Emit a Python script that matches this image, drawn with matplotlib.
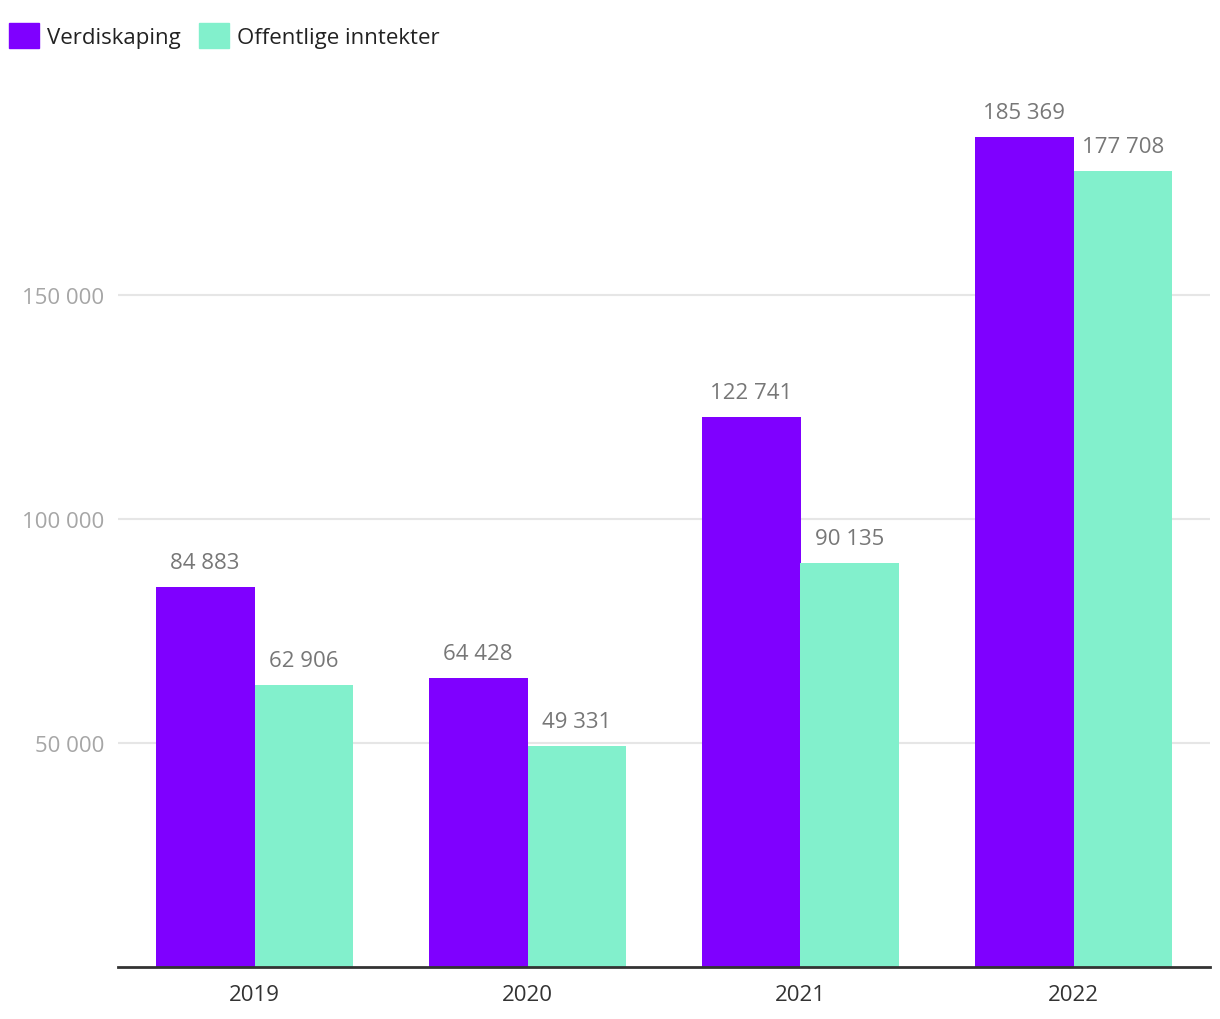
import numpy as np
import matplotlib
matplotlib.use("Agg")
import matplotlib.pyplot as plt
from matplotlib.patches import Patch

plt.rcParams['font.family'] = ['Open Sans', 'DejaVu Sans']

years = ["2019", "2020", "2021", "2022"]
verdiskaping = [84883, 64428, 122741, 185369]
offentlige = [62906, 49331, 90135, 177708]
series_names = ["Verdiskaping", "Offentlige inntekter"]
yticks = [50000, 100000, 150000]

purple = "#7F00FF"
teal = "#82F0CC"


def fmt(v):
    # norsk tusenskille med mellomrom
    return f"{v:,}".replace(",", " ")


fig = plt.figure(figsize=(12.2, 10.2), dpi=100)
ax = fig.add_axes([118 / 1220, 1 - 968 / 1020, (1210 - 118) / 1220, (968 - 72) / 1020])

x = np.arange(len(years))
w = 0.3626
b1 = ax.bar(x - w / 2, verdiskaping, width=w, color=purple, zorder=3)
b2 = ax.bar(x + w / 2, offentlige, width=w, color=teal, zorder=3)

for bars, vals in [(b1, verdiskaping), (b2, offentlige)]:
    for rect, v in zip(bars, vals):
        ax.annotate(fmt(v), (rect.get_x() + rect.get_width() / 2, v),
                    xytext=(0, 10), textcoords="offset points",
                    ha="center", va="bottom", fontsize=16, color="#777777")

ax.set_xlim(-0.5, 3.5)
ax.set_ylim(0, 200000)
ax.set_xticks(x)
ax.set_xticklabels(years, fontsize=16, color="#333333")
ax.set_yticks(yticks)
ax.set_yticklabels([fmt(t) for t in yticks], fontsize=16, color="#a6a6a6")
ax.tick_params(axis="y", length=0, pad=10)
ax.tick_params(axis="x", length=0, pad=12)
ax.yaxis.grid(True, color="#e6e6e6", linewidth=1.5, zorder=0)

for s in ["top", "right", "left"]:
    ax.spines[s].set_visible(False)
ax.spines["bottom"].set_color("#333333")
ax.spines["bottom"].set_linewidth(2)
ax.spines["bottom"].set_zorder(4)

handles = [Patch(color=purple), Patch(color=teal)]
fig.legend(handles, series_names, loc="upper left", bbox_to_anchor=(-0.005, 0.992),
           frameon=False, fontsize=16, handlelength=1.35, handleheight=1.35,
           handletextpad=0.35, columnspacing=0.8, ncol=2, labelcolor="#222222",
           borderaxespad=0.3)

fig.savefig("out.png", dpi=100, facecolor="white")
